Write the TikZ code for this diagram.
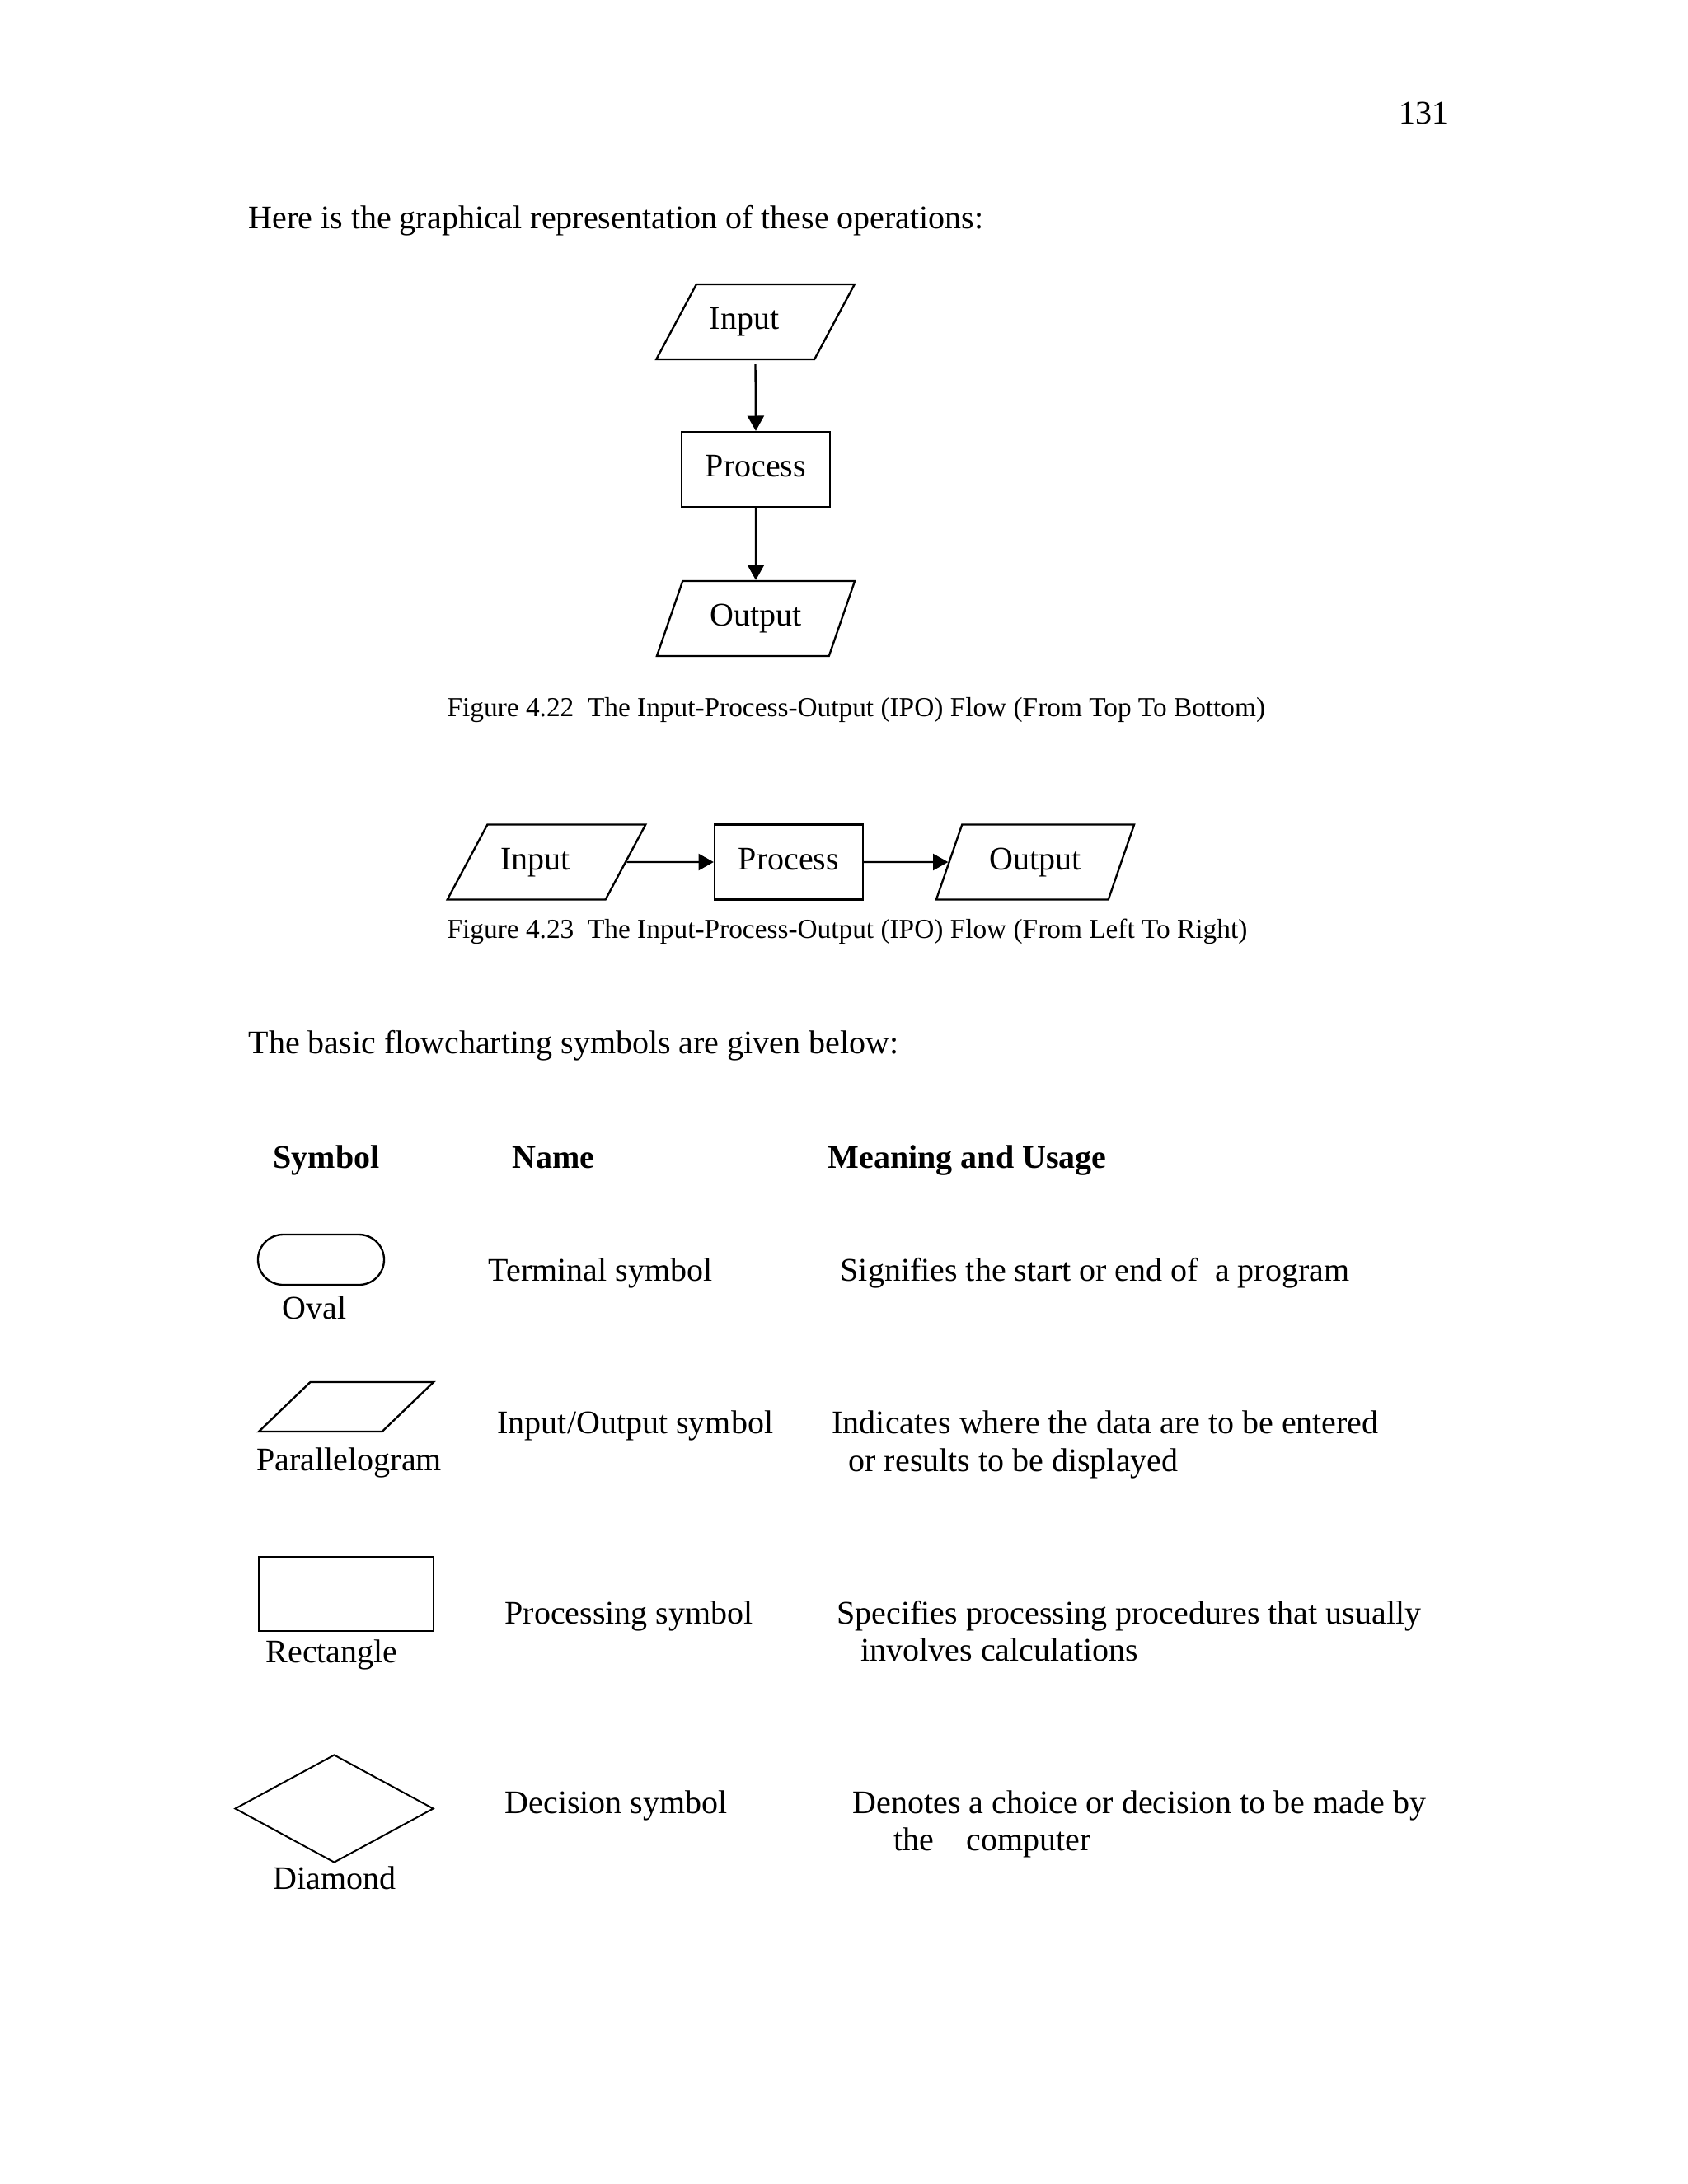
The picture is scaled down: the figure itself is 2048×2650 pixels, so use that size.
\documentclass[tikz,border=0pt]{standalone}
\usepackage{fontspec}
\setmainfont{Liberation Serif}
\usetikzlibrary{shapes.geometric,arrows.meta}

\begin{document}
\begin{tikzpicture}[x=0.3pt,y=-0.3pt,
  txt/.style={anchor=base west, inner sep=0pt, font=\fontsize{12}{14.4}\selectfont},
  figcap/.style={anchor=base west, inner sep=0pt, font=\fontsize{10}{12}\selectfont},
  head/.style={anchor=base west, inner sep=0pt, font=\fontsize{12}{14.4}\selectfont\bfseries},
  iobox/.style={draw, line width=0.7pt, trapezium, trapezium stretches=true, trapezium left angle=62.7, trapezium right angle=117.3, minimum width=72.3pt, minimum height=27.3pt, inner sep=0pt, text height=8.4pt, text depth=3pt, font=\fontsize{12}{14.4}\selectfont},
  procbox/.style={draw, line width=0.7pt, rectangle, minimum width=54pt, minimum height=27.3pt, inner sep=0pt, text height=8.4pt, text depth=3pt, font=\fontsize{12}{14.4}\selectfont},
  flow/.style={-{Triangle[length=5.5pt,width=6pt]}, line width=0.7pt},
  sym/.style={draw, line width=0.7pt, inner sep=0pt}]
\useasboundingbox (0,0) rectangle (2048,2650);

\node[txt] (pgno) at (1697,150) {131};
\node[txt] (intro0) at (301,277) {Here is the graphical representation of these operations:};

\node[iobox] (in0) at (916.5,390.5) {\hspace*{-8pt}Input};
\node[procbox] (proc0) at (917,569.5) {Process};
\node[iobox] (out0) at (917,750.5) {Output};
\draw[flow, shorten <=1.5pt](in0.south) -- (proc0.north);
\draw[flow](proc0.south) -- (out0.north);
\node[figcap] (cap0) at (542,869) {Figure 4.22\ \ The Input-Process-Output (IPO) Flow (From Top To Bottom)};

\node[iobox] (in1) at (663,1046) {\hspace*{-8pt}Input};
\node[procbox] (proc1) at (957,1046) {Process};
\node[iobox] (out1) at (1256,1046) {Output};
\draw[flow](in1.east) -- (proc1.west);
\draw[flow](proc1.east) -- (out1.west);
\node[figcap] (cap1) at (542,1138) {Figure 4.23\ \ The Input-Process-Output (IPO) Flow (From Left To Right)};

\node[txt] (intro1) at (301,1278) {The basic flowcharting symbols are given below:};

\node[head] (hsym) at (331,1417) {Symbol};
\node[head] (hname) at (621,1417) {Name};
\node[head] (hmean) at (1004,1417) {Meaning and Usage};

\node[sym, rectangle, rounded corners=9.15pt, minimum width=45.9pt, minimum height=18.3pt] (oval) at (389.5,1528.5) {};
\node[txt] (loval) at (342,1600) {Oval};
\node[txt] (noval) at (592,1554) {Terminal symbol};
\node[txt] (moval) at (1019,1554) {Signifies the start or end of\ \ a program};

\node[sym, trapezium, trapezium stretches=true, trapezium left angle=54.4, trapezium right angle=125.6, minimum width=63.6pt, minimum height=18pt, inner sep=2pt] (para) at (420,1707) {};
\node[txt] (lpara) at (311,1784) {Parallelogram};
\node[txt] (npara) at (603,1739) {Input/Output symbol};
\node[txt] (mpara0) at (1009,1739) {Indicates where the data are to be entered};
\node[txt] (mpara1) at (1029,1785) {or results to be displayed};

\node[sym, rectangle, minimum width=63.6pt, minimum height=27pt] (rect) at (420,1934) {};
\node[txt] (lrect) at (322,2017) {Rectangle};
\node[txt] (nrect) at (612,1970) {Processing symbol};
\node[txt] (mrect0) at (1015,1970) {Specifies processing procedures that usually};
\node[txt] (mrect1) at (1044,2015) {involves calculations};

\node[sym, diamond, line width=0.6pt, minimum width=72.3pt, minimum height=39.3pt] (dia) at (405.5,2194.5) {};
\node[txt] (ldia) at (331,2292) {Diamond};
\node[txt] (ndia) at (612,2200) {Decision symbol};
\node[txt] (mdia0) at (1034,2200) {Denotes a choice or decision to be made by};
\node[txt] (mdia1) at (1084,2245) {the\hspace{11.7pt}computer};

\end{tikzpicture}
\end{document}
